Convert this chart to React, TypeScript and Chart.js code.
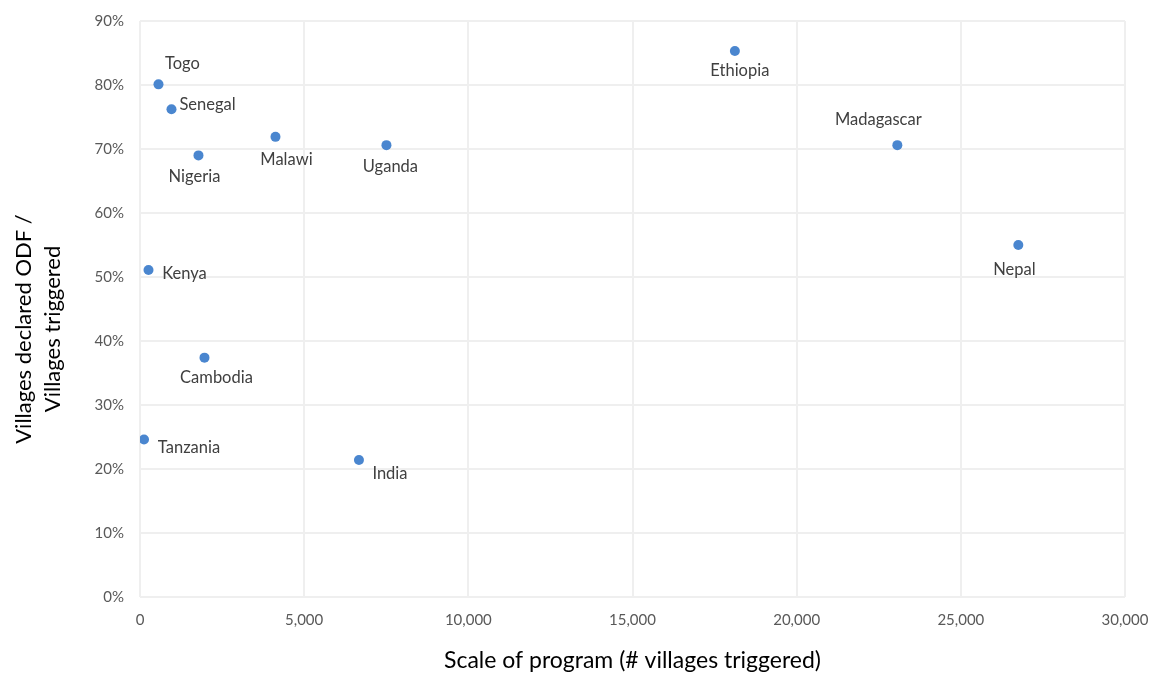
import React, { useEffect, useRef } from "react";
import { Chart, registerables } from "chart.js";

Chart.register(...registerables);

const countries = ["Togo", "Senegal", "Nigeria", "Malawi", "Uganda", "Kenya", "Cambodia", "Tanzania", "India", "Ethiopia", "Madagascar", "Nepal"];
const villagesTriggered = [563, 959, 1781, 4126, 7506, 259, 1964, 122, 6669, 18118, 23066, 26751];
const odfShare = [0.801, 0.762, 0.69, 0.719, 0.706, 0.511, 0.374, 0.246, 0.214, 0.853, 0.706, 0.55];
const xTitle = "Scale of program (# villages triggered)";
const yTitleLines = ["Villages declared ODF /", "Villages triggered"];
// label offsets (px) from each point, style only
const labelOffsets: [number, number][] = [
  [24, -21], [36, -5], [-4, 21], [11, 23], [4, 22], [36, 4], [12, 20], [45, 8], [31, 14], [5, 20], [-19, -25], [-4, 25],
];

const FONT = "Lato, 'Open Sans', sans-serif";

export default function App() {
  const ref = useRef<HTMLCanvasElement | null>(null);
  useEffect(() => {
    if (!ref.current) return;
    const labelPlugin = {
      id: "pointLabels",
      afterDatasetsDraw(chart: any) {
        const ctx = chart.ctx;
        const meta = chart.getDatasetMeta(0);
        ctx.save();
        ctx.font = `16.5px ${FONT}`;
        ctx.fillStyle = "#404040";
        ctx.textAlign = "center";
        ctx.textBaseline = "middle";
        meta.data.forEach((el: any, i: number) => {
          const [dx, dy] = labelOffsets[i];
          ctx.fillText(countries[i], el.x + dx, el.y + dy);
        });
        ctx.restore();
      },
    };
    const yTitlePlugin = {
      id: "yTitle",
      afterDraw(chart: any) {
        const ctx = chart.ctx;
        ctx.save();
        ctx.font = `22px ${FONT}`;
        ctx.fillStyle = "#000000";
        ctx.textAlign = "center";
        ctx.textBaseline = "middle";
        const cy = (chart.chartArea.top + chart.chartArea.bottom) / 2 + 20;
        yTitleLines.forEach((line, i) => {
          ctx.save();
          ctx.translate(24 + i * 29, cy);
          ctx.rotate(-Math.PI / 2);
          ctx.fillText(line, 0, 0);
          ctx.restore();
        });
        ctx.restore();
      },
    };
    const chart = new Chart(ref.current, {
      type: "scatter",
      data: {
        datasets: [
          {
            label: "Programs",
            data: villagesTriggered.map((x, i) => ({ x, y: odfShare[i] })),
            backgroundColor: "#4A86CF",
            borderColor: "#4A86CF",
            pointRadius: 5,
            pointHoverRadius: 5,
            borderWidth: 0,
          },
        ],
      },
      options: {
        animation: false,
        responsive: false,
        layout: { padding: { top: 21, right: 28, left: 0, bottom: 0 } },
        plugins: { legend: { display: false }, tooltip: { enabled: false } },
        scales: {
          x: {
            type: "linear",
            min: 0,
            max: 30000,
            afterFit: (s: any) => { s.height = 76; s.paddingLeft = 0; s.paddingRight = 0; },
            ticks: {
              stepSize: 5000,
              padding: 14,
              color: "#595959",
              font: { family: FONT, size: 15 },
              callback: (v: any) => Number(v).toLocaleString("en-US"),
            },
            grid: { color: "#EFEFEF", lineWidth: 2, drawTicks: false },
            border: { display: false },
            title: {
              display: true,
              text: xTitle,
              color: "#000000",
              font: { family: FONT, size: 23, lineHeight: 1.2 },
              padding: { top: 0, bottom: -1 },
            },
          },
          y: {
            type: "linear",
            min: 0,
            max: 0.9,
            afterFit: (s: any) => { s.width = 140; s.paddingTop = 0; s.paddingBottom = 0; },
            ticks: {
              stepSize: 0.1,
              padding: 16,
              color: "#595959",
              font: { family: FONT, size: 15 },
              callback: (v: any) => `${Math.round(Number(v) * 100)}%`,
            },
            grid: { color: "#EFEFEF", lineWidth: 2, drawTicks: false },
            border: { display: false },
          },
        },
      },
      plugins: [labelPlugin, yTitlePlugin],
    });
    return () => chart.destroy();
  }, []);
  return (
    <div style={{ position: "absolute", left: 0, top: 0, width: 1153, height: 673, background: "#fff" }}>
      <canvas ref={ref} width={1153} height={673} />
    </div>
  );
}
